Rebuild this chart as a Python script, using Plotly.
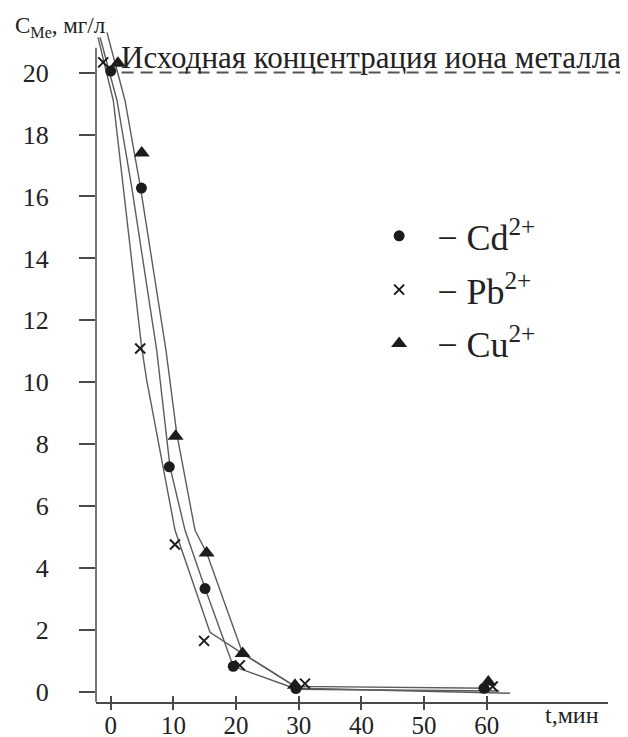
import plotly.graph_objects as go

# ---- measured points (t, min ; C, mg/l) ----
t_cd = [0.0, 4.9, 9.35, 15.05, 19.55, 29.55, 59.55]
c_cd = [20.05, 16.27, 7.27, 3.34, 0.83, 0.11, 0.12]
t_pb = [-1.2, 4.7, 10.25, 14.9, 20.6, 31.0, 60.95]
c_pb = [20.33, 11.09, 4.76, 1.65, 0.86, 0.27, 0.18]
t_cu = [1.15, 4.95, 10.35, 15.3, 21.05, 29.4, 60.25]
c_cu = [20.3, 17.4, 8.26, 4.49, 1.24, 0.22, 0.32]

# ---- hand-drawn trend curves ----
fit_t_pb = [-2.03, 0.41, 4.95, 5.75, 10.26, 15.84, 21.05, 29.9, 63.7]
fit_c_pb = [21.14, 19.1, 11.1, 10.06, 5.22, 1.93, 1.24, 0.12, -0.04]
fit_t_cd = [-1.7, 1.0, 3.35, 7.34, 9.46, 11.86, 15.05, 19.55, 29.7, 62.0]
fit_c_cd = [21.14, 19.1, 16.3, 11.03, 7.26, 5.22, 3.35, 0.83, 0.09, 0.03]
fit_t_cu = [-0.6, 2.28, 4.74, 8.82, 10.53, 13.45, 15.32, 21.06, 29.4, 60.5]
fit_c_cu = [21.3, 19.1, 16.3, 11.03, 8.35, 5.22, 4.49, 1.24, 0.18, 0.12]

x_ticks = [0, 10, 20, 30, 40, 50, 60]
y_ticks = [0, 2, 4, 6, 8, 10, 12, 14, 16, 18, 20]
initial_level = 20

names = ["\u2002\u2212 Cd<sup>2+</sup>", "\u2002\u2212 Pb<sup>2+</sup>", "\u2002\u2212 Cu<sup>2+</sup>"]

FONT = "Liberation Serif"
INK = "#1c1c1c"
LINE = "#5c5c5c"
AX = "#4a4a4a"

x_range = [-2.35, 79.35]
y_range = [-0.323, 21.44]

fig = go.Figure()

for ft, fc in [(fit_t_pb, fit_c_pb), (fit_t_cd, fit_c_cd), (fit_t_cu, fit_c_cu)]:
    fig.add_trace(go.Scatter(x=ft, y=fc, mode="lines", showlegend=False,
                             line=dict(color=LINE, width=1.4), hoverinfo="skip"))

fig.add_trace(go.Scatter(x=t_cd, y=c_cd, mode="markers", name=names[0], legendgroup="a",
                         marker=dict(symbol="circle", size=11, color=INK)))
fig.add_trace(go.Scatter(x=t_pb, y=c_pb, mode="markers", name=names[1], legendgroup="b",
                         marker=dict(symbol="x-thin", size=10, color=INK,
                                     line=dict(color=INK, width=2))))
fig.add_trace(go.Scatter(x=t_cu, y=c_cu, mode="markers", name=names[2], legendgroup="c",
                         marker=dict(symbol="triangle-up", size=14, color=INK)))

# invisible trace to carry the outer-tick overlay axis
fig.add_trace(go.Scatter(x=[x_ticks[0]], y=[y_ticks[0]], xaxis="x2", mode="markers",
                         marker=dict(opacity=0), showlegend=False, hoverinfo="skip"))

yspan = y_range[1] - y_range[0]
def ypaper(v):
    return (v - y_range[0]) / yspan

# the page body adds an 8px offset, so the figure is 8px smaller on each axis
fig.update_layout(
    width=620, height=729,
    margin=dict(l=88, r=20, t=20, b=35, autoexpand=False),
    paper_bgcolor="white", plot_bgcolor="white",
    font=dict(family=FONT, color="#222222", size=22),
    xaxis=dict(range=x_range, tickvals=x_ticks, ticks="inside", ticklen=6, tickwidth=1.5,
               tickcolor=AX, showline=True, linecolor=AX, linewidth=1.5, showgrid=False,
               zeroline=False, automargin=False, ticklabelstandoff=0,
               tickfont=dict(size=25, family=FONT, color="#222")),
    xaxis2=dict(range=x_range, overlaying="x", anchor="y", side="bottom", tickvals=x_ticks,
                ticks="outside", ticklen=7, tickwidth=1.5, tickcolor=AX, showticklabels=False,
                showline=False, showgrid=False, zeroline=False, automargin=False),
    yaxis=dict(range=y_range, tickvals=y_ticks, ticks="outside", ticklen=16, tickwidth=1.5,
               tickcolor=AX, showline=False, showgrid=False, zeroline=False, automargin=False,
               ticklabelstandoff=25, tickfont=dict(size=26, family=FONT, color="#222")),
    legend=dict(x=0.553, y=0.736, xanchor="left", yanchor="top", bgcolor="rgba(0,0,0,0)",
                font=dict(size=36, family=FONT, color="#222"), tracegroupgap=4,
                itemwidth=30),
    showlegend=True,
)

# y axis line (ends a bit above the 20 level)
fig.add_shape(type="line", xref="paper", yref="paper", x0=0, x1=0,
              y0=0, y1=ypaper(20.8), line=dict(color=AX, width=1.5))
# dashed initial level
fig.add_shape(type="line", xref="paper", yref="paper", x0=0.05, x1=1.04,
              y0=ypaper(initial_level), y1=ypaper(initial_level),
              line=dict(color="#555555", width=2, dash="12px,7px"))

fig.add_annotation(text="Исходная концентрация иона металла", xref="paper", yref="paper",
                   x=0.045, y=ypaper(initial_level), xanchor="left", yanchor="bottom",
                   yshift=-4, showarrow=False, font=dict(size=31, family=FONT, color="#222"))
fig.add_annotation(text="C<sub>Me</sub>, мг/л", xref="paper", yref="paper",
                   x=-0.162, y=1.0015, xanchor="left", yanchor="middle",
                   showarrow=False, font=dict(size=23, family=FONT, color="#222"))
fig.add_annotation(text="t,мин", xref="paper", yref="paper",
                   x=0.873, y=-0.0197, xanchor="left", yanchor="middle",
                   showarrow=False, font=dict(size=24, family=FONT, color="#222"))

fig.write_html("out.html")
